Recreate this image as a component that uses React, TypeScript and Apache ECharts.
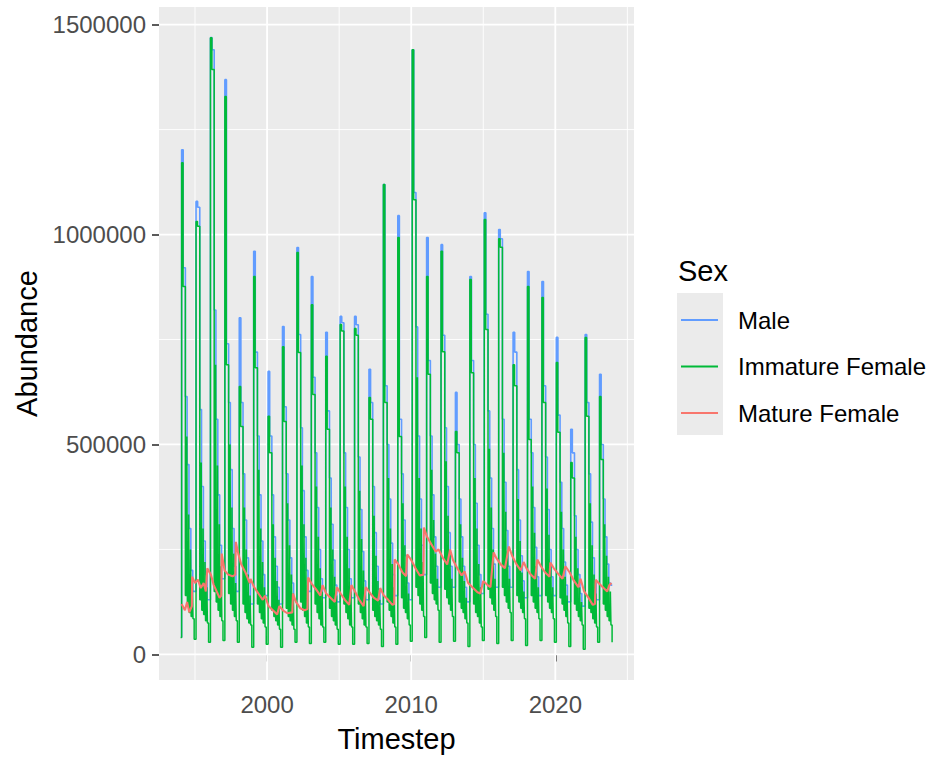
import React, { useEffect, useRef } from "react";
import * as echarts from "echarts";

// ---------- data (abundance in thousands) ----------
const years = [
  1994, 1995, 1996, 1997, 1998, 1999, 2000, 2001, 2002, 2003,
  2004, 2005, 2006, 2007, 2008, 2009, 2010, 2011, 2012, 2013,
  2014, 2015, 2016, 2017, 2018, 2019, 2020, 2021, 2022, 2023,
];

// Male: peak then successive levels within each year
const maleLevels = [
  [1202, 921, 614, 452, 300, 200, 150],
  [1079, 1065, 583, 400, 270, 190, 130],
  [1469, 1440, 820, 560, 380, 260, 180],
  [1369, 740, 600, 440, 300, 210, 150],
  [802, 600, 430, 320, 230, 170, 120],
  [960, 720, 520, 380, 270, 190, 140],
  [674, 520, 380, 280, 210, 160, 120],
  [781, 590, 430, 320, 230, 170, 130],
  [969, 762, 540, 390, 280, 200, 150],
  [900, 660, 480, 350, 250, 180, 135],
  [767, 580, 420, 310, 225, 165, 125],
  [805, 790, 480, 350, 250, 180, 135],
  [805, 785, 470, 345, 245, 175, 130],
  [679, 600, 400, 290, 210, 155, 120],
  [1119, 640, 500, 370, 265, 190, 140],
  [1045, 560, 430, 320, 235, 170, 130],
  [1440, 1100, 780, 520, 370, 260, 190],
  [993, 700, 520, 380, 280, 210, 160],
  [976, 760, 540, 400, 290, 210, 160],
  [624, 500, 370, 280, 210, 160, 125],
  [900, 700, 500, 360, 260, 190, 145],
  [1052, 810, 580, 420, 300, 215, 160],
  [1012, 990, 560, 410, 295, 210, 160],
  [767, 720, 440, 320, 235, 175, 135],
  [912, 560, 480, 350, 255, 185, 140],
  [888, 640, 470, 345, 250, 185, 140],
  [755, 570, 410, 300, 220, 165, 125],
  [536, 480, 330, 250, 190, 145, 115],
  [762, 600, 430, 315, 230, 170, 130],
  [667, 500, 370, 280, 215, 170, 165],
];

// Immature female: peak, second level, then the tops of later pulses
const femaleTops = [
  [1171, 876, 519, 333, 250, 170],
  [1031, 1020, 457, 300, 220, 160],
  [1469, 1393, 690, 450, 310, 210],
  [1329, 690, 500, 350, 240, 170],
  [638, 543, 350, 250, 190, 140],
  [900, 683, 440, 300, 220, 160],
  [567, 480, 310, 230, 175, 130],
  [733, 555, 360, 260, 190, 145],
  [957, 719, 450, 310, 230, 165],
  [833, 619, 400, 280, 205, 150],
  [710, 536, 350, 250, 185, 140],
  [786, 770, 400, 280, 205, 150],
  [776, 760, 390, 275, 200, 145],
  [612, 560, 330, 235, 175, 130],
  [1119, 600, 420, 300, 215, 160],
  [993, 519, 360, 260, 190, 145],
  [1440, 1083, 660, 420, 300, 220],
  [900, 667, 440, 320, 240, 180],
  [960, 721, 460, 330, 240, 180],
  [531, 480, 310, 230, 175, 135],
  [893, 671, 420, 300, 215, 160],
  [1036, 774, 490, 350, 250, 180],
  [990, 970, 480, 340, 245, 180],
  [690, 640, 370, 270, 195, 150],
  [876, 512, 400, 290, 210, 160],
  [850, 600, 395, 285, 210, 160],
  [695, 529, 340, 250, 185, 140],
  [457, 420, 280, 205, 160, 125],
  [755, 567, 360, 260, 190, 145],
  [614, 464, 310, 235, 185, 150],
];

// Immature female: troughs between the pulses
const femaleLows = [
  [140, 115, 100, 90, 85],
  [130, 105, 95, 80, 75],
  [150, 125, 105, 90, 80],
  [145, 120, 105, 90, 80],
  [120, 100, 85, 75, 70],
  [120, 100, 85, 75, 65],
  [105, 90, 80, 70, 60],
  [110, 90, 80, 70, 60],
  [125, 105, 90, 75, 65],
  [120, 100, 85, 70, 65],
  [110, 90, 80, 70, 60],
  [120, 100, 85, 70, 65],
  [120, 100, 85, 70, 65],
  [105, 90, 80, 70, 60],
  [125, 105, 90, 75, 65],
  [135, 110, 100, 85, 70],
  [160, 140, 120, 105, 90],
  [170, 145, 130, 120, 105],
  [155, 135, 120, 105, 90],
  [125, 110, 100, 85, 75],
  [120, 100, 90, 75, 65],
  [155, 135, 120, 105, 90],
  [160, 140, 125, 110, 100],
  [140, 125, 110, 100, 85],
  [140, 125, 110, 100, 85],
  [140, 125, 110, 100, 85],
  [135, 120, 105, 90, 75],
  [120, 105, 90, 80, 70],
  [110, 100, 85, 75, 65],
  [120, 105, 90, 80, 70],
];

// Immature female minimum just before each recruitment (last = final value)
const femaleBottoms = [
  40, 36, 29, 33, 29, 17, 24, 17, 29, 26, 29, 24, 24, 26, 19, 24,
  31, 40, 29, 31, 19, 33, 26, 33, 21, 33, 29, 19, 12, 29, 29,
];

const firstTimestep = 1994.0;
const lastTimestep = 2023.96;
const recruitOffset = 0.07;

// Mature female
const matureTimes = [
  1994.07, 1994.3, 1994.45, 1994.6, 1994.78, 1994.8, 1995.0, 1995.2, 1995.4, 1995.6,
  1995.75, 1995.85, 1996.1, 1996.3, 1996.5, 1996.7, 1996.82, 1996.85, 1997.05, 1997.3,
  1997.6, 1997.8, 1997.83, 1998.0, 1998.2, 1998.5, 1998.8, 1998.85, 1999.1, 1999.4,
  1999.7, 1999.85, 2000.1, 2000.4, 2000.7, 2000.85, 2001.1, 2001.4, 2001.75, 2001.8,
  2002.0, 2002.3, 2002.6, 2002.8, 2002.85, 2003.1, 2003.4, 2003.7, 2003.85, 2004.1,
  2004.4, 2004.7, 2004.85, 2005.1, 2005.4, 2005.7, 2005.85, 2006.1, 2006.4, 2006.7,
  2006.85, 2007.1, 2007.4, 2007.7, 2007.85, 2008.1, 2008.4, 2008.7, 2008.82, 2008.85,
  2009.1, 2009.4, 2009.65, 2009.72, 2010.0, 2010.3, 2010.6, 2010.85, 2010.88, 2011.1,
  2011.4, 2011.7, 2011.9, 2012.2, 2012.5, 2012.7, 2012.9, 2013.2, 2013.5, 2013.7,
  2013.95, 2014.3, 2014.6, 2014.8, 2015.0, 2015.3, 2015.5, 2015.72, 2015.9, 2016.2,
  2016.5, 2016.78, 2017.0, 2017.3, 2017.6, 2017.8, 2018.0, 2018.3, 2018.6, 2018.75,
  2019.0, 2019.3, 2019.6, 2019.65, 2019.9, 2020.2, 2020.5, 2020.7, 2021.0, 2021.3,
  2021.6, 2021.75, 2022.0, 2022.3, 2022.6, 2022.75, 2022.8, 2023.0, 2023.3, 2023.6,
  2023.75, 2023.9,
];
const matureValues = [
  120, 105, 125, 100, 115, 185, 170, 178, 158, 170,
  150, 205, 190, 165, 150, 135, 140, 240, 200, 190,
  186, 190, 268, 240, 215, 195, 170, 180, 160, 145,
  130, 140, 115, 105, 95, 115, 105, 98, 100, 145,
  125, 110, 105, 108, 183, 168, 155, 140, 165, 145,
  135, 125, 160, 145, 130, 118, 165, 150, 130, 115,
  160, 148, 135, 128, 158, 140, 130, 118, 120, 226,
  215, 195, 186, 238, 225, 205, 188, 190, 302, 280,
  262, 245, 250, 230, 214, 250, 225, 205, 188, 198,
  170, 158, 148, 145, 175, 165, 160, 243, 230, 215,
  205, 257, 235, 215, 200, 220, 205, 190, 180, 226,
  210, 195, 185, 219, 205, 192, 180, 210, 195, 175,
  160, 180, 150, 135, 118, 120, 178, 170, 160, 150,
  165, 170,
];

const yMajor = [0, 500000, 1000000, 1500000];
const yMinor = [250000, 750000, 1250000];
const xMajor = [2000, 2010, 2020];
const xMinor = [1995, 2005, 2015, 2025];

const seriesNames = ["Male", "Immature Female", "Mature Female"];
const seriesColors = ["#619CFF", "#00BA38", "#F8766D"];

// ---------- builders ----------
const K = 1000;
const X_MIN = 1992.5;
const X_MAX = 2025.46;
const Y_MIN = -61000;
const Y_MAX = 1542000;

function buildMale(): number[][] {
  const drops = [0.11, 0.26, 0.38, 0.51, 0.64, 0.77];
  const pts: number[][] = [];
  years.forEach((yr, i) => {
    const t0 = yr + recruitOffset;
    const m = maleLevels[i];
    const prev = i === 0 ? femaleBottoms[0] : maleLevels[i - 1][6];
    pts.push([t0, prev * K], [t0, m[0] * K]);
    drops.forEach((d, j) => {
      pts.push([t0 + d, m[j] * K], [t0 + d, m[j + 1] * K]);
    });
  });
  pts.push([lastTimestep - 0.01, maleLevels[years.length - 1][6] * K]);
  return pts;
}

function buildImmature(): number[][] {
  const pulses = [0.36, 0.49, 0.62, 0.75];
  const pts: number[][] = [[firstTimestep, femaleBottoms[0] * K]];
  years.forEach((yr, i) => {
    const t0 = yr + recruitOffset;
    const g = femaleTops[i];
    const lo = femaleLows[i];
    pts.push(
      [t0, femaleBottoms[i] * K],
      [t0, g[0] * K],
      [t0 + 0.1, g[0] * K],
      [t0 + 0.1, g[1] * K],
      [t0 + 0.26, g[1] * K],
      [t0 + 0.26, lo[0] * K]
    );
    pulses.forEach((s, j) => {
      pts.push(
        [t0 + s, lo[j] * K],
        [t0 + s, g[j + 2] * K],
        [t0 + s + 0.04, g[j + 2] * K],
        [t0 + s + 0.04, lo[j + 1] * K]
      );
    });
    pts.push([t0 + 0.87, lo[4] * K], [t0 + 0.87, femaleBottoms[i + 1] * K]);
  });
  pts.push([lastTimestep, femaleBottoms[years.length] * K]);
  return pts;
}

function buildMature(): number[][] {
  return matureTimes.map((t, i) => [t, matureValues[i] * K]);
}

const FONT = '"Liberation Sans", Arial, Helvetica, sans-serif';

function gridSeries(): any[] {
  const out: any[] = [];
  const base = {
    type: "line",
    silent: true,
    symbol: "none",
    showSymbol: false,
    z: 1,
    animation: false,
    tooltip: { show: false },
  };
  yMajor.forEach((v) =>
    out.push({ ...base, data: [[X_MIN, v], [X_MAX, v]], lineStyle: { color: "#FFFFFF", width: 1.8 } })
  );
  yMinor.forEach((v) =>
    out.push({ ...base, data: [[X_MIN, v], [X_MAX, v]], lineStyle: { color: "#FFFFFF", width: 0.9 } })
  );
  xMajor.forEach((v) =>
    out.push({ ...base, data: [[v, Y_MIN], [v, Y_MAX]], lineStyle: { color: "#FFFFFF", width: 1.8 } })
  );
  xMinor.forEach((v) =>
    out.push({ ...base, data: [[v, Y_MIN], [v, Y_MAX]], lineStyle: { color: "#FFFFFF", width: 0.9 } })
  );
  return out;
}

export default function App() {
  const ref = useRef<HTMLDivElement>(null);

  useEffect(() => {
    if (!ref.current) return;
    const chart = echarts.init(ref.current, null, { renderer: "svg" });
    const dataSets = [buildMale(), buildImmature(), buildMature()];
    const widths = [1.6, 1.5, 2.1];

    const option: any = {
      animation: false,
      backgroundColor: "#FFFFFF",
      textStyle: { fontFamily: FONT },
      grid: {
        left: 159,
        top: 7,
        width: 475,
        height: 673,
        show: true,
        backgroundColor: "#EBEBEB",
        borderWidth: 0,
        containLabel: false,
      },
      xAxis: {
        type: "value",
        min: X_MIN,
        max: X_MAX,
        name: "Timestep",
        nameLocation: "middle",
        nameGap: 44,
        nameTextStyle: { fontSize: 29, color: "#000000", fontFamily: FONT },
        axisLine: { show: false },
        splitLine: { show: false },
        axisTick: {
          show: true,
          length: 7,
          customValues: xMajor,
          lineStyle: { color: "#333333", width: 1.6 },
        },
        axisLabel: {
          customValues: xMajor,
          formatter: (v: number) => String(v),
          color: "#4D4D4D",
          fontSize: 24,
          fontFamily: FONT,
          margin: 12,
        },
      },
      yAxis: {
        type: "value",
        min: Y_MIN,
        max: Y_MAX,
        name: "Abundance",
        nameLocation: "middle",
        nameGap: 116,
        nameTextStyle: { fontSize: 29, color: "#000000", fontFamily: FONT },
        axisLine: { show: false },
        splitLine: { show: false },
        axisTick: {
          show: true,
          length: 7,
          customValues: yMajor,
          lineStyle: { color: "#333333", width: 1.6 },
        },
        axisLabel: {
          customValues: yMajor,
          formatter: (v: number) => String(v),
          color: "#4D4D4D",
          fontSize: 24,
          fontFamily: FONT,
          margin: 13,
        },
      },
      legend: {
        data: seriesNames,
        orient: "vertical",
        left: 676,
        top: 300,
        icon: "rect",
        itemWidth: 37,
        itemHeight: 2,
        itemGap: 16.5,
        selectedMode: false,
        textStyle: {
          fontSize: 24,
          color: "#000000",
          fontFamily: FONT,
          lineHeight: 30,
          padding: [0, 0, 0, 15],
        },
      },
      graphic: [
        {
          type: "rect",
          x: 677,
          y: 293,
          shape: { width: 46, height: 142 },
          style: { fill: "#EBEBEB" },
          z: 0,
        },
        {
          type: "text",
          x: 678,
          y: 271,
          style: {
            text: "Sex",
            fontSize: 29,
            fontFamily: FONT,
            fill: "#000000",
            align: "left",
            verticalAlign: "middle",
          },
        },
      ],
      series: [
        ...gridSeries(),
        ...seriesNames.map((name, i) => ({
          name,
          type: "line",
          data: dataSets[i],
          symbol: "none",
          showSymbol: false,
          color: seriesColors[i],
          lineStyle: { color: seriesColors[i], width: widths[i] },
          z: 2 + i,
          animation: false,
        })),
      ],
    };

    chart.setOption(option);
    return () => chart.dispose();
  }, []);

  return (
    <div
      ref={ref}
      style={{ position: "fixed", left: 0, top: 0, width: 939, height: 761 }}
    />
  );
}
